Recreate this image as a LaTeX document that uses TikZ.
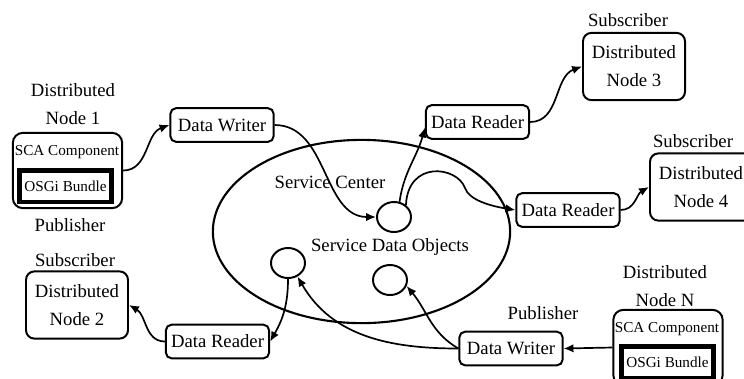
\documentclass[tikz,border=0pt]{standalone}
\usepackage{fontspec}
\setmainfont{Liberation Serif}
\usetikzlibrary{shapes,arrows.meta}

\begin{document}
\begin{tikzpicture}[x=0.025cm, y=0.025cm,
dnode/.style={rectangle, rounded corners=6pt, draw, line width=1.4pt, minimum width=2.55cm, minimum height=1.68cm, align=center},
comp/.style={rectangle, rounded corners=7pt, draw, line width=1.4pt, minimum width=2.73cm, minimum height=1.88cm},
bundle/.style={rectangle, draw, line width=3pt, minimum width=2.3cm, minimum height=0.78cm, inner sep=1pt, font=\fontsize{10.8}{12}\selectfont},
dds/.style={rectangle, rounded corners=4pt, draw, line width=1.4pt, minimum width=2.58cm, minimum height=0.84cm},
sdo/.style={ellipse, draw, line width=1.4pt, minimum width=0.85cm, minimum height=0.75cm},
lab/.style={inner sep=1pt, align=center},
sca/.style={inner sep=1pt, font=\fontsize{10.8}{12}\selectfont},
flow/.style={-{Latex[length=7pt,width=6pt]}, line width=1.2pt},
font=\fontsize{13.3}{19.9}\selectfont]

\useasboundingbox (0,0) rectangle (744,-378);
\clip (0,0) rectangle (744,-378);

\node[ellipse, draw, line width=1.5pt, minimum width=7.43cm, minimum height=4.58cm] at (361.5,-231.5) (sc) {};
\node[lab] at (330,-182) {Service Center};
\node[lab] at (390,-247) {Service Data Objects};
\node[sdo] at (394,-217) (sdo1) {};
\node[sdo] at (288,-263) (sdo2) {};
\node[sdo] at (390,-280) (sdo3) {};

\node[comp] at (67.5,-170.5) (pub1) {};
\node[sca] at (67,-152) {SCA Component};
\node[bundle] at (65.5,-186) (osgi1) {OSGi Bundle};
\node[lab] at (73,-104) {Distributed\\Node 1};
\node[lab] at (70,-225) {Publisher};

\node[comp] at (668,-347.5) (pubn) {};
\node[sca] at (667,-329) {SCA Component};
\node[bundle] at (667.5,-362) (osgin) {OSGi Bundle};
\node[lab] at (665,-286) {Distributed\\Node N};
\node[lab] at (543,-313) {Publisher};

\node[dnode] at (77,-305) (sub2) {Distributed\\Node 2};
\node[lab] at (75,-260) {Subscriber};
\node[dnode] at (634,-66.5) (sub3) {Distributed\\Node 3};
\node[lab] at (628,-20) {Subscriber};
\node[dnode] at (701,-187) (sub4) {Distributed\\Node 4};
\node[lab] at (693,-141) {Subscriber};

\node[dds] at (222,-125) (dw1) {Data Writer};
\node[dds] at (511,-348.5) (dwn) {Data Writer};
\node[dds] at (477.5,-122) (dr3) {Data Reader};
\node[dds] at (568,-210) (dr4) {Data Reader};
\node[dds] at (217.5,-341.5) (dr2) {Data Reader};

\draw[flow] (pub1.east) to[out=0,in=200] (dw1.west);
\draw[flow] (dw1.east) to[out=0,in=180] (sdo1.west);
\draw[flow] (sdo1.70) to[out=82,in=255] ([yshift=-4pt]dr3.west);
\draw[flow] (sdo1.45) .. controls +(2,45) and +(-8,22) .. (465,-188) .. controls +(4,-12) and +(-25,4) .. (dr4.west);
\draw[flow] (dr3.east) to[out=0,in=200] (sub3.west);
\draw[flow] (dr4.east) to[out=0,in=210] (sub4.west);
\draw[flow] (sdo2.south) to[out=-90,in=60] (dr2.east);
\draw[flow] (dr2.west) to[out=180,in=-30] (sub2.east);
\draw[flow] (dwn.west) to[out=180,in=-60] (sdo2.-55);
\draw[flow] (dwn.west) to[out=150,in=-50] (sdo3.-20);
\draw[flow] (pubn.west) -- (dwn.east);
\end{tikzpicture}
\end{document}
